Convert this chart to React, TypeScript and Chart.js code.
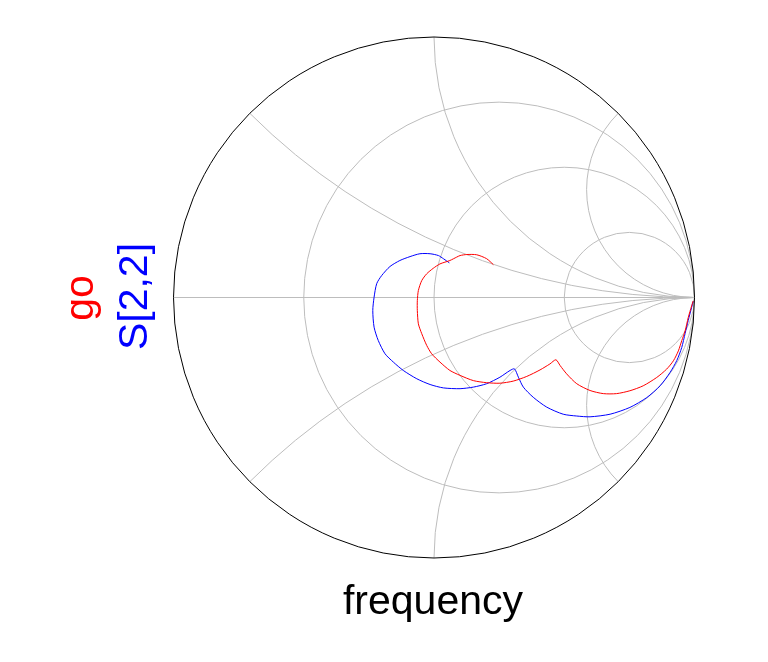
import React, { useEffect, useRef } from "react";
import { Chart, registerables } from "chart.js";

Chart.register(...registerables);

// Reflection coefficient (real / imaginary parts) of the two traces
const goRe = [0.228, 0.202, 0.164, 0.126, 0.100, 0.087, 0.061, 0.023, -0.003, -0.028, -0.047, -0.060, -0.064, -0.064, -0.060, -0.047, -0.028, -0.009, 0.023, 0.061, 0.100, 0.151, 0.202, 0.253, 0.304, 0.356, 0.407, 0.445, 0.468, 0.484, 0.509, 0.548, 0.599, 0.650, 0.701, 0.752, 0.803, 0.855, 0.893, 0.919, 0.938, 0.951, 0.964, 0.976, 0.989, 0.995];
const goIm = [0.126, 0.149, 0.164, 0.165, 0.161, 0.155, 0.142, 0.129, 0.112, 0.091, 0.065, 0.027, -0.012, -0.050, -0.101, -0.139, -0.184, -0.216, -0.248, -0.280, -0.299, -0.319, -0.327, -0.329, -0.321, -0.303, -0.278, -0.255, -0.239, -0.261, -0.293, -0.331, -0.357, -0.369, -0.369, -0.358, -0.339, -0.307, -0.275, -0.243, -0.205, -0.166, -0.128, -0.077, -0.032, -0.013];

const s22Re = [0.059, 0.036, 0.017, -0.015, -0.054, -0.092, -0.131, -0.169, -0.201, -0.220, -0.230, -0.235, -0.230, -0.214, -0.188, -0.156, -0.118, -0.066, -0.015, 0.036, 0.100, 0.151, 0.202, 0.253, 0.292, 0.309, 0.324, 0.343, 0.381, 0.433, 0.496, 0.548, 0.599, 0.676, 0.752, 0.817, 0.868, 0.906, 0.932, 0.951, 0.964, 0.976, 0.989, 0.995];
const s22Im = [0.133, 0.149, 0.161, 0.168, 0.168, 0.157, 0.142, 0.119, 0.084, 0.053, 0.001, -0.050, -0.114, -0.165, -0.216, -0.248, -0.280, -0.312, -0.334, -0.347, -0.350, -0.344, -0.331, -0.306, -0.280, -0.274, -0.306, -0.344, -0.383, -0.421, -0.448, -0.455, -0.458, -0.448, -0.422, -0.384, -0.339, -0.288, -0.242, -0.192, -0.138, -0.088, -0.038, -0.015];

// Smith chart grid values
const resistanceGrid = [1 / 3, 1, 3];
const reactanceGrid = [0.4142, 1, 2.4142];

const seriesLabels = ["go", "S[2,2]"];
const seriesColors = ["#ff0000", "#0000ff"];
const xAxisTitle = "frequency";

const FONT = '41px "Liberation Sans", Arial, Helvetica, sans-serif';

const smithPlugin = {
  id: "smithGrid",
  beforeDatasetsDraw(chart: any) {
    const { ctx, scales } = chart;
    const xs = scales.x;
    const ys = scales.y;
    const px = (v: number) => xs.getPixelForValue(v);
    const py = (v: number) => ys.getPixelForValue(v);
    const unit = px(1) - px(0);
    ctx.save();
    ctx.beginPath();
    ctx.arc(px(0), py(0), unit, 0, Math.PI * 2);
    ctx.clip();
    ctx.strokeStyle = "#bdbdbd";
    ctx.lineWidth = 1;
    ctx.beginPath();
    ctx.moveTo(px(-1), py(0));
    ctx.lineTo(px(1), py(0));
    ctx.stroke();
    for (const r of resistanceGrid) {
      const c = r / (r + 1);
      const rad = 1 / (r + 1);
      ctx.beginPath();
      ctx.arc(px(c), py(0), rad * unit, 0, Math.PI * 2);
      ctx.stroke();
    }
    for (const xv of reactanceGrid) {
      for (const s of [1, -1]) {
        ctx.beginPath();
        ctx.arc(px(1), py(s / xv), unit / xv, 0, Math.PI * 2);
        ctx.stroke();
      }
    }
    ctx.restore();
  },
  afterDatasetsDraw(chart: any) {
    const { ctx, scales } = chart;
    const xs = scales.x;
    const ys = scales.y;
    const px = (v: number) => xs.getPixelForValue(v);
    const py = (v: number) => ys.getPixelForValue(v);
    const unit = px(1) - px(0);
    ctx.save();
    ctx.strokeStyle = "#000000";
    ctx.lineWidth = 1;
    ctx.beginPath();
    ctx.arc(px(0), py(0), unit, 0, Math.PI * 2);
    ctx.stroke();

    ctx.font = FONT;
    ctx.textAlign = "center";
    ctx.textBaseline = "alphabetic";
    ctx.fillStyle = "#000000";
    ctx.fillText(xAxisTitle, 433, 614);

    const labelX = [93.3, 147.3];
    const labelY = [298, 296.5];
    seriesLabels.forEach((lab, i) => {
      ctx.save();
      ctx.translate(labelX[i], labelY[i]);
      ctx.rotate(-Math.PI / 2);
      ctx.fillStyle = seriesColors[i];
      ctx.fillText(lab, 0, 0);
      ctx.restore();
    });
    ctx.restore();
  },
};

export default function App() {
  const ref = useRef<HTMLCanvasElement | null>(null);
  useEffect(() => {
    if (!ref.current) return;
    const chart = new Chart(ref.current, {
      type: "scatter",
      data: {
        datasets: [
          {
            label: seriesLabels[0],
            data: goRe.map((v, i) => ({ x: v, y: goIm[i] })),
            showLine: true,
            borderColor: seriesColors[0],
            backgroundColor: seriesColors[0],
            borderWidth: 1,
            pointRadius: 0,
            tension: 0.25,
            fill: false,
          },
          {
            label: seriesLabels[1],
            data: s22Re.map((v, i) => ({ x: v, y: s22Im[i] })),
            showLine: true,
            borderColor: seriesColors[1],
            backgroundColor: seriesColors[1],
            borderWidth: 1,
            pointRadius: 0,
            tension: 0.25,
            fill: false,
          },
        ],
      },
      options: {
        responsive: false,
        animation: false,
        devicePixelRatio: 1,
        layout: { padding: { left: 173.5, right: 73.5, top: 37, bottom: 104 } },
        scales: {
          x: { type: "linear", min: -1, max: 1, display: false },
          y: { type: "linear", min: -1, max: 1, display: false },
        },
        plugins: { legend: { display: false }, tooltip: { enabled: false } },
      },
      plugins: [smithPlugin],
    });
    return () => chart.destroy();
  }, []);
  return (
    <div style={{ position: "absolute", left: 0, top: 0, width: 768, height: 662, background: "#ffffff" }}>
      <canvas ref={ref} width={768} height={662} style={{ width: 768, height: 662 }} />
    </div>
  );
}
